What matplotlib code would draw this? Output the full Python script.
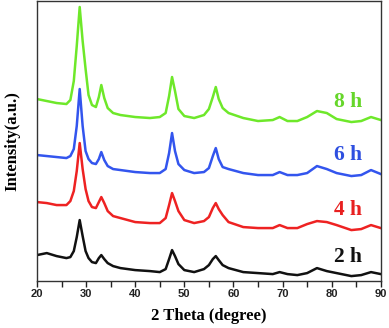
import matplotlib
matplotlib.use("Agg")
import matplotlib.pyplot as plt

# 2 theta positions (degree) where the curves were read
two_theta = [20, 22, 24, 26, 26.8, 27.5, 28.1, 28.7, 29.3, 29.9, 30.5, 31.2, 32, 32.6, 33.1,
             33.7, 34.4, 35.5, 37, 40, 43, 45, 46.2, 46.9, 47.5, 48.1, 48.8, 50, 52, 54,
             55, 55.8, 56.4, 57, 57.8, 59, 62, 65, 68, 69.4, 71, 73, 75, 77, 79, 81,
             84, 86, 88, 90]

# intensities (a.u., already stacked with offsets as in the figure)
i_2h = [26, 28, 25, 23, 24, 30, 44, 61, 45, 30, 23, 19, 18, 23, 26,
        22, 18, 15, 13, 11, 10, 9, 12, 22, 31, 25, 17, 11, 9, 12,
        16, 22, 25, 21, 16, 13, 9, 8, 7, 9, 7, 6, 8, 13, 10, 8,
        5, 6, 9, 7]
i_4h = [79, 78, 76, 76, 80, 90, 110, 138, 112, 92, 80, 74, 73, 79, 84,
        78, 70, 65, 63, 59, 58, 58, 63, 76, 88, 80, 70, 61, 58, 60,
        64, 73, 78, 72, 66, 59, 54, 53, 53, 56, 53, 53, 57, 60, 59, 56,
        51, 52, 56, 53]
i_6h = [126, 125, 124, 123, 125, 132, 155, 192, 155, 130, 122, 118, 117, 122, 129,
        121, 115, 112, 111, 109, 108, 108, 112, 128, 148, 130, 117, 111, 108, 109,
        113, 125, 133, 122, 114, 112, 108, 106, 106, 109, 106, 106, 108, 115, 112, 108,
        105, 106, 111, 107]
i_8h = [182, 180, 178, 177, 181, 200, 235, 274, 240, 212, 186, 176, 174, 184, 196,
        183, 173, 168, 166, 164, 163, 164, 168, 185, 204, 190, 172, 165, 163, 166,
        172, 184, 194, 182, 173, 168, 163, 160, 161, 164, 160, 160, 164, 170, 168, 162,
        159, 160, 164, 161]

labels = ["2 h", "4 h", "6 h", "8 h"]
series = [i_2h, i_4h, i_6h, i_8h]
line_colors = ["#111111", "#ee2222", "#3355ee", "#6ee82a"]
text_colors = ["#111111", "#e82020", "#2e4fe0", "#66d62a"]
label_y = [24, 71, 126, 179]

fig = plt.figure(figsize=(3.89, 3.28), dpi=100)
ax = fig.add_axes([0.095, 0.143, 0.884, 0.854])

for y, lab, lc, tc, ly in zip(series, labels, line_colors, text_colors, label_y):
    ax.plot(two_theta, y, color=lc, lw=1.8)
    ax.text(83.3, ly, lab, color=tc, fontsize=15.5, fontweight="bold",
            family="Liberation Serif", ha="center", va="center")

ax.set_xlim(20, 90)
ax.set_ylim(0, 280)
ax.set_xticks(range(20, 91, 10))
ax.set_xticks(range(25, 90, 10), minor=True)
ax.set_yticks([])
ax.tick_params(axis="x", which="both", direction="out", length=4, width=1, colors="#222222",
               labelsize=8, pad=2)
for lab in ax.get_xticklabels():
    lab.set_fontweight("bold")
    lab.set_family("Liberation Sans")
for s in ax.spines.values():
    s.set_color("#333333")
    s.set_linewidth(1.0)

ax.set_xlabel("2 Theta (degree)", fontsize=12, fontweight="bold", family="Liberation Serif",
              labelpad=6)
ax.set_ylabel("Intensity(a.u.)", fontsize=12, fontweight="bold", family="Liberation Serif",
              labelpad=12)

fig.savefig("out.png", dpi=100)
